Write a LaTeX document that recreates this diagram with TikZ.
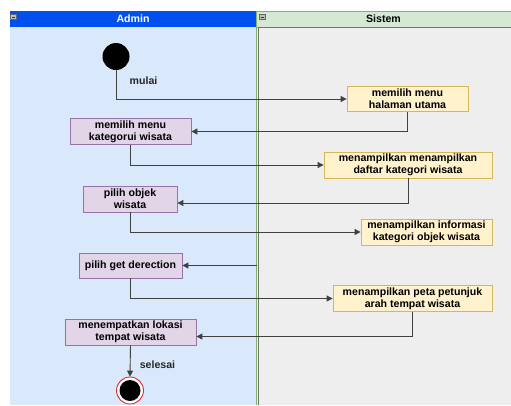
\documentclass[tikz,border=0pt]{standalone}
\usepackage{fontspec}
\setmainfont{Liberation Sans}
\usetikzlibrary{arrows.meta,positioning,calc}
\definecolor{adminhead}{RGB}{0,80,239}
\definecolor{adminbody}{RGB}{218,232,252}
\definecolor{sistemhead}{RGB}{213,232,212}
\definecolor{sistemline}{RGB}{130,179,102}
\definecolor{sistembody}{RGB}{238,238,238}
\definecolor{actfill}{RGB}{225,213,231}
\definecolor{actline}{RGB}{150,115,166}
\definecolor{sysfill}{RGB}{255,242,204}
\definecolor{sysline}{RGB}{214,182,86}
\definecolor{endred}{RGB}{230,40,40}
\newcommand{\lbl}{\bfseries\fontsize{10.6}{12}\selectfont}

\begin{document}
\begin{tikzpicture}[x=1pt, y=-1pt,
  act/.style={rectangle, draw=actline, fill=actfill, line width=0.8pt,
    minimum height=25pt, inner sep=2pt, align=center, font=\lbl},
  sys/.style={rectangle, draw=sysline, fill=sysfill, line width=0.8pt,
    minimum height=25pt, inner sep=2pt, align=center, font=\lbl},
  hdr/.style={rectangle, minimum height=16pt, inner sep=0pt, font=\lbl},
  arr/.style={-{Triangle[length=6pt,width=6pt]}, black!75, line width=0.9pt},
  tag/.style={font=\lbl, text=black!85}]
\useasboundingbox (0,0) rectangle (511,405);
% swimlanes
\fill[adminbody] (10,27) rectangle (256,405);
\fill[sistembody] (257,27) rectangle (511,405);
\node[hdr, fill=adminhead, text=white, minimum width=246pt] (hadmin) at (133,19) {Admin};
\node[hdr, fill=sistemhead, draw=sistemline, minimum width=255pt] (hsistem) at (383.5,19) {Sistem};
\draw[sistemline, line width=1pt] (256,11) -- (256,405);
\draw[black!55, line width=0.8pt] (258,405) -- (258,27.5) -- (511,27.5);
\foreach \x in {10.5,259.5} {
  \draw[black!60, fill=black!25] (\x,14) rectangle ++(6,5.5);
  \draw[black!80] (\x+1.5,16.75) -- ++(3,0);
}
% nodes
\node[circle, fill=black, minimum size=27pt, inner sep=0pt] (start) at (116,56.5) {};
\node[sys, minimum width=121pt] (s1) at (407.5,99) {memilih menu\\halaman utama};
\node[act, minimum width=121pt] (a1) at (130.5,131.5) {memilih menu\\kategorui wisata};
\node[sys, minimum width=168pt] (s2) at (408,165) {menampilkan menampilkan\\daftar kategori wisata};
\node[act, minimum width=94pt, minimum height=26pt] (a2) at (130,199) {pilih objek\\wisata};
\node[sys, minimum width=131pt, minimum height=24pt] (s3) at (426.5,232) {menampilkan informasi\\kategori objek wisata};
\node[act, minimum width=103pt] (a3) at (130.5,265.5) {pilih get derection};
\node[sys, minimum width=159pt] (s4) at (412.5,298.5) {menampilkan peta petunjuk\\arah tempat wisata};
\node[act, minimum width=131pt, minimum height=26pt] (a4) at (130.5,332) {menempatkan lokasi\\tempat wisata};
\node[circle, draw=endred, line width=0.9pt, fill=white, minimum size=27pt, inner sep=0pt] (stop) at (130,390.5) {};
\node[circle, fill=black, minimum size=21pt, inner sep=0pt] (stopin) at (stop) {};
\coordinate (lane) at (257,265.5);
% labels
\node[tag] (mulai) at (143.5,81) {mulai};
\node[tag] (selesai) at (157.5,365) {selesai};
% flows
\draw[arr] (start.south) |- (s1.west);
\draw[arr] (s1.south) |- (a1.east);
\draw[arr] (a1.south) |- (s2.west);
\draw[arr] (s2.south) |- ([yshift=-4pt]a2.east);
\draw[arr] (a2.south) |- (s3.west);
\draw[arr] (lane) -- (a3.east);
\draw[arr] (a3.south) |- (s4.west);
\draw[arr] (s4.south) |- ([yshift=-4.5pt]a4.east);
\draw[arr] (a4.south) -- (stop.north);
\end{tikzpicture}
\end{document}
